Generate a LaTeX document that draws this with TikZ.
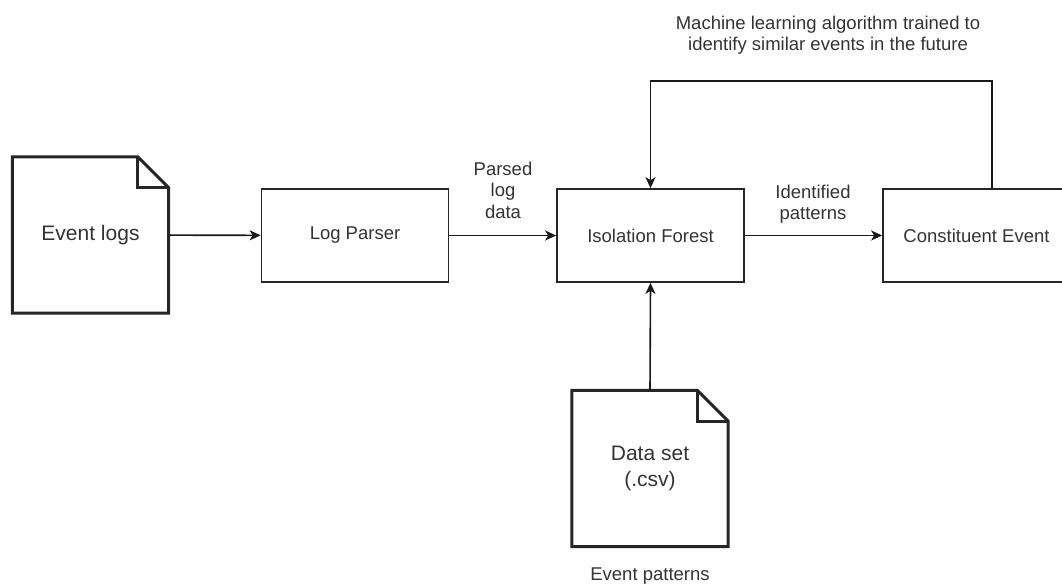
\documentclass[tikz,border=0pt]{standalone}
\usepackage{fontspec}
\setmainfont{Liberation Sans}
\usetikzlibrary{arrows.meta}

\tikzset{
  box/.style={draw=black!85, line width=1.7pt, minimum width=187pt, minimum height=93pt,
    inner sep=0pt, text=black!80, font=\fontsize{18.5}{22}\selectfont},
  doc/.style={minimum width=156pt, minimum height=156pt, inner sep=0pt, align=center,
    text=black!80, font=\fontsize{21}{26}\selectfont},
  flow/.style={draw=black!90, line width=1.6pt, -{Stealth[length=11pt,width=10pt,inset=3pt]}},
  lbl/.style={inner sep=0pt, align=center, text=black!80, font=\fontsize{18.5}{21.5}\selectfont},
}

% 带折角的文档外框
\newcommand{\foldeddoc}[1]{%
  \draw[line width=3pt, black!85, line join=miter]
    (#1.north west) -- ([xshift=-31pt]#1.north east) -- ([yshift=-31pt]#1.north east)
    -- (#1.south east) -- (#1.south west) -- cycle;
  \draw[line width=3pt, black!85] ([xshift=-31pt]#1.north east) |- ([yshift=-31pt]#1.north east);
}

\begin{document}
\begin{tikzpicture}[x=1pt, y=-1pt]
    \useasboundingbox (0,0) rectangle (1062,584);

    % 文档
    \node[doc] (evlogs) at (90.5,235) {Event logs};
    \foldeddoc{evlogs}
    \node[doc] (dataset) at (650,468.5) {Data set\\(.csv)};
    \foldeddoc{dataset}

    % 处理框
    \node[box] (parser) at (355,235.5) {Log Parser};
    \node[box] (iforest) at (650.5,235.5) {Isolation Forest};
    \node[box] (constit) at (976.5,235.5) {Constituent Event};

    % 连线
    \draw[flow] (evlogs) -- (parser);
    \draw[flow] (parser) -- (iforest);
    \draw[flow] (iforest) -- (constit);
    \draw[flow] (dataset.north) -- (iforest.south);
    \coordinate (fbturn) at (650.5,81);
    \draw[flow] ([xshift=15.5pt]constit.north) |- (fbturn) -- (iforest.north);

    % 标注
    \node[lbl] (parsedlbl) at (503,190) {Parsed\\log\\data};
    \node[lbl] (identlbl) at (813,204) {Identified\\patterns};
    \node[lbl] (mllbl) at (828,35) {Machine learning algorithm trained to\\identify similar events in the future};
    \node[lbl] (patlbl) at (650,576) {Event patterns};
\end{tikzpicture}
\end{document}
